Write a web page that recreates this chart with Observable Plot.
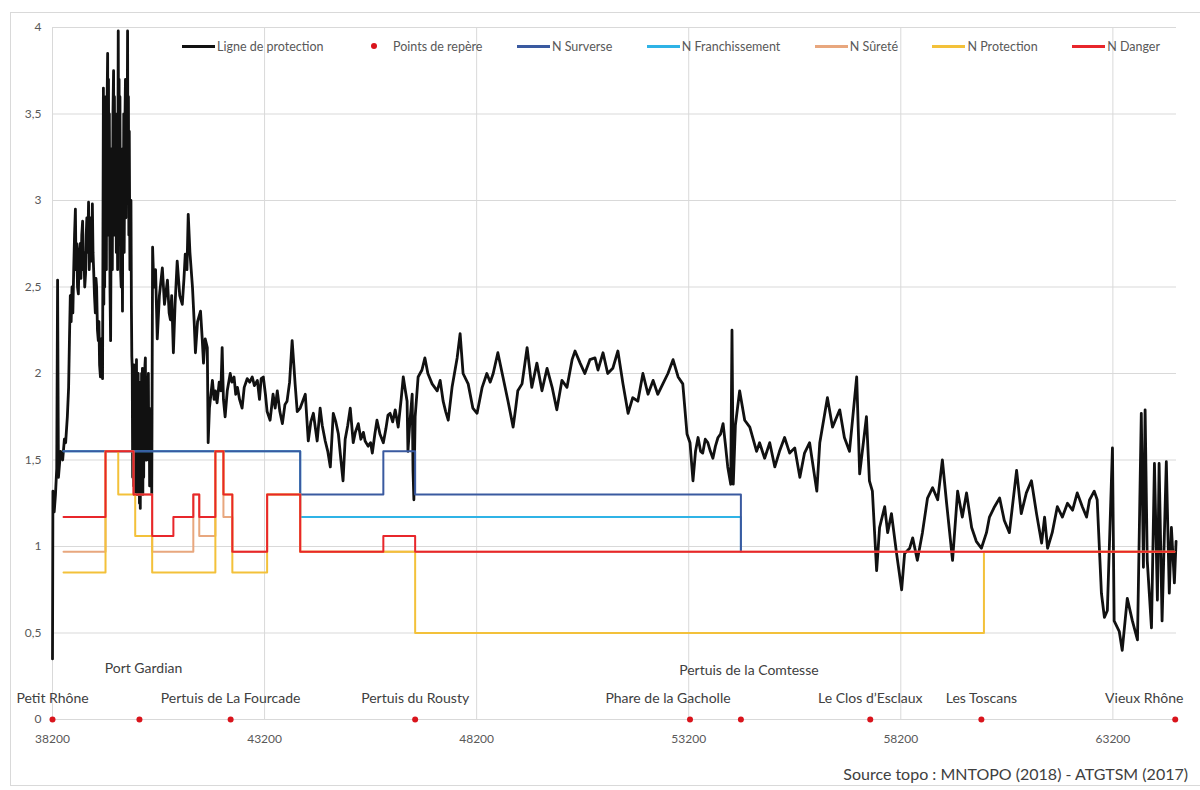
<!DOCTYPE html>
<html><head><meta charset="utf-8">
<script src="https://cdn.jsdelivr.net/npm/d3@7"></script>
<script src="https://cdn.jsdelivr.net/npm/@observablehq/plot@0.6"></script>
<style>
body{margin:0;background:#fff;font-family:Lato,"Open Sans",sans-serif;}
#wrap{position:relative;width:1200px;height:790px;overflow:hidden;}
#chart{position:absolute;left:0;top:0;}
#frame{position:absolute;left:10px;top:12px;width:1200px;height:774px;border:1px solid #d9d9d9;box-sizing:border-box;pointer-events:none;}
#legend{position:absolute;left:182px;top:37px;width:978px;height:18px;display:flex;justify-content:space-between;align-items:center;font-size:12.5px;color:#595959;}
.item{display:flex;align-items:center;}
.sw{width:33px;height:18px;position:relative;margin-right:2px;}
.sw .ln{position:absolute;left:0;right:0;top:8px;height:3px;}
.sw .dt{position:absolute;left:13px;top:6px;width:6px;height:6px;border-radius:50%;}
#source{position:absolute;right:12px;top:764px;font-size:16px;color:#404040;}
</style></head>
<body><div id="wrap"><div id="chart"></div><div id="frame"></div><div id="legend"></div><div id="source"></div></div>
<script>
// ---- Data ----
const xTicks = [38200, 43200, 48200, 53200, 58200, 63200];
const yTicks = [0, 0.5, 1, 1.5, 2, 2.5, 3, 3.5, 4];

// Ligne de protection : [PK (m), cote (m)]
const ligneProtection = [
[38200,0.35],[38210,1.32],[38240,1.2],[38270,1.3],[38300,1.45],[38320,2.54],[38340,1.4],[38390,1.55],[38440,1.5],[38480,1.62],[38510,1.6],[38550,1.75],[38580,1.92],[38600,2.2],[38620,2.45],[38640,2.3],[38660,2.5],[38680,2.35],[38700,2.6],[38720,2.8],[38740,2.95],[38755,2.6],[38770,2.75],[38790,2.5],[38810,2.46],[38830,2.7],[38850,2.75],[38870,2.55],[38890,2.8],[38910,2.88],[38925,2.6],[38940,2.7],[38960,2.5],[38980,2.58],[38995,2.8],[39010,2.9],[39030,2.7],[39050,2.99],[39065,2.6],[39080,2.7],[39095,2.9],[39110,2.85],[39125,2.65],[39140,2.98],[39155,2.7],[39170,2.6],[39190,2.45],[39210,2.35],[39225,2.55],[39240,2.5],[39260,2.25],[39280,2.19],[39295,2.3],[39310,2.05],[39330,1.98],[39345,2.2],[39360,2.1],[39380,1.97],
[39400,3.65],[39410,2.4],[39420,3.3],[39430,2.5],[39440,3.5],[39450,2.7],[39460,3.6],[39470,2.6],[39480,3.4],[39500,3.85],[39510,2.8],[39520,3.7],[39530,2.9],[39540,3.5],[39555,2.5],[39570,2.19],[39585,3.0],[39600,3.3],[39610,2.6],[39625,3.5],[39640,3.75],[39650,2.8],[39660,3.6],[39675,2.9],[39690,3.5],[39705,2.7],[39720,3.2],[39735,2.6],[39750,3.98],[39760,3.0],[39770,3.7],[39780,2.9],[39790,3.6],[39805,2.6],[39820,2.5],[39835,3.0],[39850,2.36],[39860,3.3],[39870,2.8],[39880,3.5],[39890,2.7],[39905,3.4],[39920,3.7],[39930,2.9],[39940,3.6],[39955,3.0],[39970,3.98],[39980,3.0],[39990,3.6],[40000,2.8],[40010,3.4],[40025,2.6],[40040,2.71],[40050,3.0],[40060,2.4],[40070,2.1],[40080,2.03],
[40090,1.4],[40100,2.0],[40110,1.35],[40120,2.05],[40130,1.3],[40140,1.95],[40150,1.4],[40160,2.05],[40170,1.3],[40180,2.08],[40190,1.35],[40200,1.9],[40210,1.3],[40220,2.0],[40230,1.3],[40240,1.95],[40250,1.25],[40260,1.8],[40270,1.22],[40280,1.95],[40290,1.4],[40300,2.0],[40310,1.35],[40320,2.03],[40330,1.3],[40340,1.9],[40350,1.4],[40360,2.0],[40370,1.5],[40380,2.05],[40390,2.09],[40400,1.5],[40410,1.9],[40420,1.5],[40430,1.95],[40440,1.65],[40450,1.9],[40460,2.0],[40470,1.5],[40480,1.8],[40490,1.35],[40500,1.75],[40510,1.55],[40520,1.4],[40530,1.7],[40540,1.3],
[40560,2.73],[40590,2.5],[40630,2.6],[40670,2.2],[40720,2.45],[40790,2.61],[40840,2.4],[40910,2.54],[40950,2.35],[40980,2.31],[41010,2.45],[41050,2.12],[41090,2.4],[41140,2.65],[41200,2.45],[41260,2.4],[41300,2.55],[41330,2.69],[41370,2.6],[41400,2.92],[41440,2.7],[41500,2.5],[41540,2.3],[41570,2.12],[41620,2.3],[41690,2.36],[41730,2.2],[41760,2.06],[41800,2.2],[41850,2.15],[41870,1.6],[41900,1.8],[41970,1.96],[42010,1.85],[42040,1.9],[42080,1.83],[42130,1.95],[42170,1.9],[42200,2.15],[42230,1.85],[42270,1.75],[42320,1.9],[42390,2.0],[42430,1.95],[42480,1.98],[42520,1.88],[42560,1.92],[42610,1.85],[42670,1.8],[42720,1.92],[42790,1.97],[42850,1.95],[42910,1.98],[42960,1.93],[43030,1.96],[43080,1.85],[43120,1.97],[43170,1.98],[43220,1.88],[43260,1.78],[43330,1.73],[43400,1.88],[43450,1.8],[43500,1.9],[43560,1.78],[43620,1.71],[43680,1.82],[43730,1.84],[43790,1.95],[43850,2.19],[43890,2.05],[43920,1.94],[43970,1.78],
[44040,1.8],[44160,1.88],[44230,1.61],[44290,1.72],[44350,1.77],[44440,1.61],[44510,1.8],[44560,1.7],[44630,1.61],[44690,1.55],[44750,1.46],[44820,1.77],[44880,1.72],[44940,1.65],[45000,1.5],[45050,1.38],[45100,1.62],[45160,1.7],[45220,1.8],[45290,1.6],[45340,1.66],[45410,1.71],[45470,1.62],[45530,1.66],[45570,1.61],[45640,1.58],[45700,1.6],[45740,1.54],[45800,1.65],[45850,1.73],[45920,1.65],[46000,1.6],[46060,1.68],[46110,1.76],[46160,1.77],[46220,1.72],[46280,1.79],[46350,1.69],[46420,1.85],[46470,1.98],[46520,1.9],[46560,1.84],[46580,1.55],[46620,1.7],[46680,1.88],[46700,1.44],[46720,1.27],[46750,1.75],
[46820,1.98],[46910,2.02],[46980,2.09],[47050,2.0],[47150,1.94],[47270,1.9],[47340,1.96],[47410,1.84],[47470,1.78],[47530,1.73],[47620,1.92],[47740,2.09],[47810,2.23],[47880,2.0],[48000,1.94],[48110,1.8],[48210,1.77],[48330,1.92],[48440,2.0],[48520,1.95],[48590,2.0],[48700,2.12],[48820,1.98],[48940,1.84],[49060,1.69],[49120,1.8],[49170,1.9],[49270,1.94],[49390,2.15],[49500,1.92],[49620,2.06],[49740,1.9],[49860,2.03],[49980,1.92],[50090,1.79],[50210,1.96],[50330,1.92],[50450,2.08],[50520,2.13],[50640,2.06],[50750,2.0],[50870,2.08],[50990,2.09],[51060,2.02],[51180,2.12],[51290,2.0],[51410,2.03],[51530,2.13],[51650,1.94],[51770,1.77],[51880,1.86],[52000,1.84],[52120,2.0],[52240,1.88],[52360,1.96],[52470,1.88],[52590,1.94],[52710,2.0],[52830,2.08],[52950,1.98],[53060,1.94],[53160,1.65],[53230,1.6],[53300,1.38],[53360,1.55],[53420,1.63],[53480,1.55],[53530,1.54],[53590,1.62],[53650,1.6],[53710,1.55],[53770,1.51],[53830,1.58],[53890,1.63],[53950,1.65],[54010,1.71],[54060,1.6],[54120,1.46],[54190,1.36],[54220,2.25],[54250,1.36],[54300,1.7],
[54400,1.9],[54520,1.73],[54640,1.69],[54800,1.55],[54870,1.6],[54990,1.51],[55110,1.6],[55230,1.46],[55340,1.55],[55460,1.63],[55580,1.54],[55700,1.57],[55820,1.4],[55930,1.54],[56050,1.6],[56220,1.32],[56290,1.6],[56470,1.86],[56590,1.69],[56760,1.79],[56870,1.63],[56990,1.55],[57160,1.98],[57230,1.42],[57390,1.75],[57460,1.38],[57530,1.32],[57630,0.86],[57700,1.11],[57820,1.23],[57890,1.08],[57980,1.19],[58100,0.96],[58220,0.75],[58290,0.96],[58410,0.99],[58480,1.05],[58590,0.92],[58710,1.08],[58830,1.28],[58950,1.34],[59070,1.27],[59180,1.5],[59280,1.25],[59420,0.92],[59540,1.32],[59650,1.17],[59750,1.31],[59870,1.11],[59980,1.03],[60100,0.99],[60220,1.08],[60290,1.17],[60410,1.23],[60530,1.28],[60640,1.15],[60760,1.08],[60930,1.44],[61040,1.19],[61160,1.31],[61280,1.38],[61400,1.19],[61520,1.02],[61590,1.17],[61660,0.99],[61770,1.08],[61890,1.23],[62010,1.17],[62130,1.25],[62250,1.21],[62360,1.31],[62480,1.23],[62580,1.17],[62650,1.27],[62760,1.32],[62830,1.27],[62930,0.73],[63000,0.59],[63070,0.63],[63190,1.57],[63230,0.57],[63350,0.51],[63420,0.4],[63540,0.7],[63660,0.57],[63780,0.46],[63870,1.77],[63920,0.88],[63960,1.79],[64010,0.92],[64110,0.53],[64180,1.48],[64250,0.69],[64290,1.48],[64360,0.57],[64460,1.49],[64530,0.73],[64580,1.11],[64650,0.79],[64690,1.03]
];

// Niveaux (paliers, valeur valable jusqu'au point suivant)
const surverseX = [38460, 44040, 46000, 46750, 54430];
const surverseY = [1.55, 1.3, 1.55, 1.3, 0.97];
const franchX = [38460, 44040, 54430];
const franchY = [1.55, 1.17, 0.97];
const sureteX = [38460, 39450, 40110, 40550, 41520, 41660, 42040, 42230, 42440, 43260, 44040, 64650];
const sureteY = [0.97, 1.55, 1.3, 0.97, 1.3, 1.06, 1.55, 1.17, 0.97, 1.3, 0.97, 0.97];
const protectionX = [38460, 39450, 39750, 40150, 40550, 42040, 42230, 42440, 43260, 44040, 46750, 60160, 64650];
const protectionY = [0.85, 1.55, 1.3, 1.06, 0.85, 1.55, 1.3, 0.85, 1.3, 0.97, 0.5, 0.97, 0.97];
const dangerX = [38460, 39450, 40110, 40550, 41050, 41520, 41660, 42040, 42230, 42440, 43260, 44040, 46000, 46750, 64650];
const dangerY = [1.17, 1.55, 1.3, 1.06, 1.17, 1.3, 1.17, 1.55, 1.3, 0.97, 1.3, 0.97, 1.06, 0.97, 0.97];

// Points de repère
const reperesNoms = ["Petit Rhône", "Port Gardian", "Pertuis de La Fourcade", "Pertuis du Rousty", "Phare de la Gacholle", "Pertuis de la Comtesse", "Le Clos d’Esclaux", "Les Toscans", "Vieux Rhône"];
const reperesX = [38200, 40250, 42400, 46750, 53230, 54430, 57480, 60100, 64670];

const seriesNoms = ["Ligne de protection", "Points de repère", "N Surverse", "N Franchissement", "N Sûreté", "N Protection", "N Danger"];
const seriesCouleurs = ["#111111", "#d9141c", "#3a5aa0", "#2fb3e6", "#e8a77e", "#f3c13a", "#e8262b"];
const sourceTexte = "Source topo : MNTOPO (2018) - ATGTSM (2017)";

// ---- Build ----
const zipXY = (xs, ys) => xs.map((x, i) => ({x, y: ys[i]}));
const ligne = ligneProtection.map(([x, y]) => ({x, y}));
// draw order: Franchissement under Surverse
const steps = [
  [zipXY(franchX, franchY), seriesCouleurs[3]],
  [zipXY(surverseX, surverseY), seriesCouleurs[2]],
  [zipXY(sureteX, sureteY), seriesCouleurs[4]],
  [zipXY(protectionX, protectionY), seriesCouleurs[5]],
  [zipXY(dangerX, dangerY), seriesCouleurs[6]]
];
const reperes = reperesNoms.map((nom, i) => ({nom, x: reperesX[i], y: 0}));
const labelLayout = {
  "Port Gardian": [4, -51],
  "Pertuis de la Comtesse": [8, -49],
  "Phare de la Gacholle": [-22, -21],
  "Vieux Rhône": [-31, -21]
};

const grid = "#d9d9d9";
const chart = Plot.plot({
  width: 1200, height: 790,
  marginLeft: 52, marginRight: 24, marginTop: 27, marginBottom: 71,
  style: {background: "transparent", fontFamily: "Lato, 'Open Sans', sans-serif"},
  x: {domain: [38200, 64700], label: null},
  y: {domain: [0, 4], label: null},
  marks: [
    Plot.gridX(xTicks, {stroke: grid, strokeOpacity: 1}),
    Plot.gridY(yTicks, {stroke: grid, strokeOpacity: 1}),
    Plot.axisX(xTicks, {tickSize: 0, tickPadding: 15, fontSize: 12, fill: "#595959", tickFormat: d => String(d)}),
    Plot.axisY(yTicks, {tickSize: 0, tickPadding: 11, fontSize: 12, fill: "#595959", tickFormat: d => String(d).replace(".", ",")}),
    Plot.line(ligne, {x: "x", y: "y", stroke: seriesCouleurs[0], strokeWidth: 2.8, strokeLinejoin: "round"}),
    ...steps.map(([data, c]) => Plot.line(data, {x: "x", y: "y", curve: "step-after", stroke: c, strokeWidth: 2})),
    Plot.dot(reperes, {x: "x", y: "y", r: 3, fill: seriesCouleurs[1], stroke: "none"}),
    ...reperes.map(d => {
      const [dx, dy] = labelLayout[d.nom] || [0, -21];
      return Plot.text([d], {x: "x", y: "y", text: "nom", dx, dy, fontSize: 14, fill: "#404040"});
    })
  ]
});
document.getElementById("chart").appendChild(chart);

// Legend
const legend = document.getElementById("legend");
seriesNoms.forEach((nom, i) => {
  const item = document.createElement("div");
  item.className = "item";
  const sw = document.createElement("div");
  sw.className = "sw";
  const mark = document.createElement("div");
  mark.className = i === 1 ? "dt" : "ln";
  mark.style.background = seriesCouleurs[i];
  sw.appendChild(mark);
  const t = document.createElement("span");
  t.textContent = nom;
  item.appendChild(sw); item.appendChild(t);
  legend.appendChild(item);
});
document.getElementById("source").textContent = sourceTexte;
</script></body></html>
